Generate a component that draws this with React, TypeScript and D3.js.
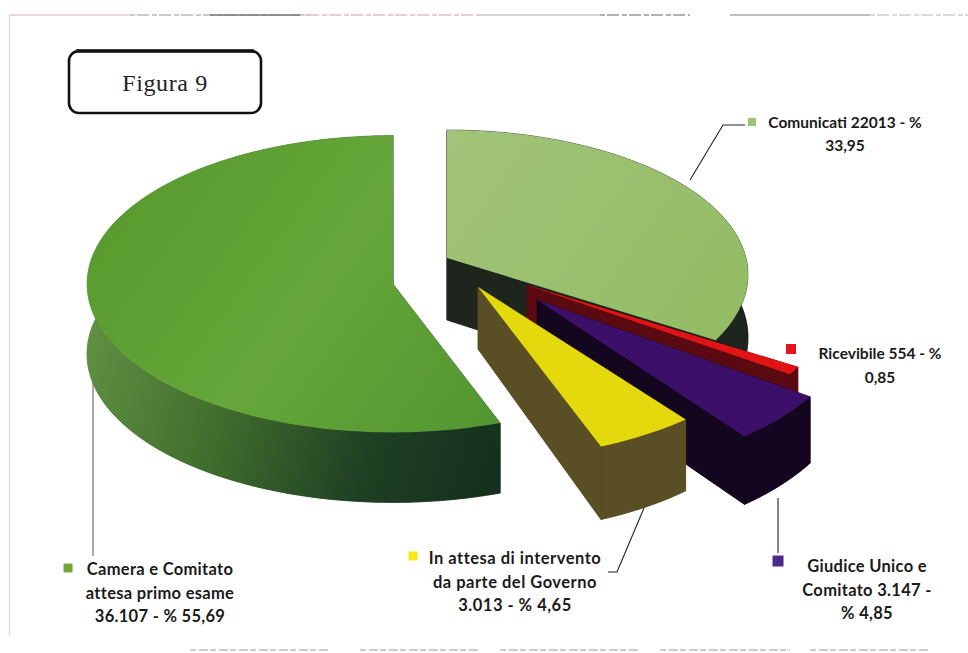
import React from "react";
import * as d3 from "d3";

const categories = ["Comunicati", "Ricevibile", "Giudice Unico e Comitato", "In attesa di intervento", "Camera e Comitato"];
const percentages = [33.95, 0.85, 4.85, 4.65, 55.69];
const labelLines = [
  ["Comunicati 22013 - %", "33,95"],
  ["Ricevibile 554 - %", "0,85"],
  ["Giudice Unico e", "Comitato 3.147 -", "% 4,85"],
  ["In attesa di intervento", "da parte del Governo", "3.013 - % 4,65"],
  ["Camera e Comitato", "attesa primo esame", "36.107 - % 55,69"],
];
const topColors = ["url(#topLight)", "#e01414", "#3c1068", "#e4d90c", "url(#topGreen)"];
const legendColors = ["#9cc472", "#e8141c", "#4a2a8a", "#f7e81a", "#6fa83a"];
const sideColors = ["#1d251d", "#5c0a12", "#14061e", "#5a4e24", "url(#sideGreen)"];

// exploded-slice layout: apex, radius, tilt, perspective, depth
const sliceLayout = [
  { cx: 447, cy: 258, r: 299, k: 0.485, p: 0.117, d: 62 },
  { cx: 527, cy: 285, r: 301, k: 0.48, p: 0.12, d: 62 },
  { cx: 537, cy: 300, r: 313, k: 0.5, p: 0.12, d: 62 },
  { cx: 478, cy: 287, r: 298, k: 0.485, p: 0.19, d: 62 },
  { cx: 393, cy: 284, r: 306, k: 0.485, p: 0, d: 70 },
];
const labelLayout = [
  { x: 845, y: 128, mx: 752, my: 122, s: 8, dy: 23, fs: 15.5, ls: 0 },
  { x: 880, y: 359, mx: 791, my: 349, s: 10, dy: 24, fs: 15.5, ls: 0 },
  { x: 867, y: 572, mx: 778, my: 561, s: 11, dy: 23.5, fs: 16.5, ls: 0.3 },
  { x: 515, y: 564, mx: 413, my: 556, s: 9, dy: 23.5, fs: 16.5, ls: 0.5 },
  { x: 160, y: 575, mx: 68, my: 568, s: 9, dy: 23.5, fs: 16.5, ls: 0.3 },
];
const leaders = [
  [[745, 125], [723, 125], [690, 180]],
  [[778, 498], [778, 553]],
  [[644, 508], [617, 572], [608, 572]],
  [[93, 360], [93, 556]],
];
const topNoise = [[10, 130, "#e8c8cc"], [130, 310, "#c0b8b8"], [210, 300, "#777"], [300, 480, "#e3bcc4"], [480, 600, "#c9c9c9"], [600, 690, "#999"], [730, 870, "#aaa"], [870, 968, "#cfcfcf"]] as const;
const bottomNoise = [[190, 330], [360, 480], [500, 640], [660, 790], [810, 930]];

const line = d3.line<number[]>();
const pieAngles = d3.pie<number>().sort(null).value((v) => v)(percentages);

function outline(i: number) {
  const a = pieAngles[i];
  const g = sliceLayout[i];
  const n = Math.max(2, Math.ceil((a.endAngle - a.startAngle) / 0.03));
  const angles = d3.range(n + 1).map((j) => a.startAngle + ((a.endAngle - a.startAngle) * j) / n);
  const pt = (t: number, z: number) => {
    const f = 1 - g.p * Math.cos(t);
    return [g.cx + g.r * Math.sin(t) * f, g.cy - g.r * g.k * Math.cos(t) * f + z * f];
  };
  return {
    apexTop: [g.cx, g.cy],
    apexBot: [g.cx, g.cy + g.d],
    arcTop: angles.map((t) => pt(t, 0)),
    arcBot: angles.map((t) => pt(t, g.d)),
  };
}

function Slice({ i }: { i: number }) {
  const { apexTop, apexBot, arcTop, arcBot } = outline(i);
  const last = arcTop.length - 1;
  const walls = [
    [apexBot, ...arcBot],
    [...arcTop, ...[...arcBot].reverse()],
    [apexTop, arcTop[0], arcBot[0], apexBot],
    [apexTop, arcTop[last], arcBot[last], apexBot],
  ];
  return (
    <g>
      {walls.map((w, j) => (
        <path key={j} d={line(w) + "Z"} fill={sideColors[i]} stroke={sideColors[i]} strokeWidth={0.5} />
      ))}
      <path d={line([apexTop, ...arcTop]) + "Z"} fill={topColors[i]} />
    </g>
  );
}

export default function App() {
  return (
    <svg width={968} height={653} style={{ position: "absolute", left: 0, top: 0, display: "block", background: "#fff" }}>
      <defs>
        <linearGradient id="topGreen" gradientUnits="userSpaceOnUse" x1={87} y1={130} x2={498} y2={430}>
          <stop offset="0" stopColor="#54982a" />
          <stop offset="0.55" stopColor="#66a63a" />
          <stop offset="1" stopColor="#529630" />
        </linearGradient>
        <linearGradient id="topLight" gradientUnits="userSpaceOnUse" x1={447} y1={130} x2={746} y2={340}>
          <stop offset="0" stopColor="#a2c47a" />
          <stop offset="1" stopColor="#92bb62" />
        </linearGradient>
        <linearGradient id="sideGreen" gradientUnits="userSpaceOnUse" x1={87} y1={350} x2={498} y2={470}>
          <stop offset="0" stopColor="#5f8f42" />
          <stop offset="0.3" stopColor="#44722f" />
          <stop offset="0.7" stopColor="#1f4023" />
          <stop offset="1" stopColor="#15301e" />
        </linearGradient>
      </defs>

      <line x1={9.5} x2={9.5} y1={14} y2={636} stroke="#f0d4d8" strokeWidth={1.5} />
      {topNoise.map(([a, b, c], i) => (
        <line key={i} x1={a} x2={b} y1={15} y2={15} stroke={c} strokeWidth={1.3} strokeDasharray={i % 2 ? "5 2 12 3" : undefined} />
      ))}
      {bottomNoise.map(([a, b], i) => (
        <line key={i} x1={a} x2={b} y1={650} y2={650} stroke="#ccc" strokeWidth={2} strokeDasharray="6 3 9 2" />
      ))}

      <rect x={69} y={51} width={192} height={62} rx={10} ry={10} fill="#fff" stroke="#111" strokeWidth={2.6} />
      <line x1={76} x2={254} y1={51} y2={51} stroke="#111" strokeWidth={3.4} />
      <text x={165} y={91} textAnchor="middle" fontFamily="'Liberation Serif', serif" fontSize={24} letterSpacing={0.6} fill="#222">
        Figura 9
      </text>

      {leaders.map((pts, i) => (
        <path key={i} d={line(pts as number[][]) ?? ""} fill="none" stroke={i === 3 ? "#666" : "#222"} strokeWidth={1.1} />
      ))}

      {categories.map((_, i) => (
        <Slice key={i} i={i} />
      ))}

      {categories.map((c, i) => {
        const l = labelLayout[i];
        return (
          <g key={c}>
            <rect x={l.mx - l.s / 2} y={l.my - l.s / 2} width={l.s} height={l.s} fill={legendColors[i]} />
            {labelLines[i].map((t, j) => (
              <text key={j} x={l.x} y={l.y + j * l.dy} textAnchor="middle" fontFamily="Lato, sans-serif" fontWeight={700} fontSize={l.fs} letterSpacing={l.ls} fill="#1a1a1a">
                {t}
              </text>
            ))}
          </g>
        );
      })}
    </svg>
  );
}
